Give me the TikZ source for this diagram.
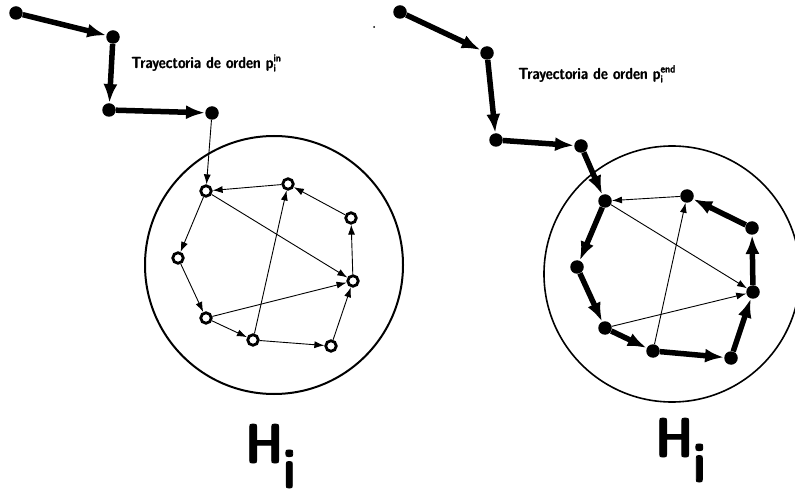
\documentclass[tikz,border=0pt]{standalone}
\usepackage{fontspec}
\newfontfamily\lmsdc{lmsansdemicond10-regular.otf}[FakeBold=1.6]
\usetikzlibrary{arrows.meta}
\tikzset{
  fdot/.style={circle,fill=black,inner sep=0pt,minimum size=13.5pt},
  odot/.style={circle,draw=black,line width=2.8pt,fill=white,inner sep=0pt,minimum size=10.5pt},
  thick path/.style={line width=5.5pt,-{Latex[length=19pt,width=14pt]}},
  thin path/.style={line width=0.9pt,-{Latex[length=10pt,width=7pt]}},
  lab/.style={inner sep=0pt,anchor=base west,font=\lmsdc\fontsize{16pt}{19pt}\selectfont},
  bigh/.style={inner sep=0pt,anchor=base west,font=\lmsdc\fontsize{56pt}{60pt}\selectfont}
}
\newcommand{\supsub}[2]{\rlap{\raisebox{-3.5pt}{\fontsize{10.5pt}{11pt}\selectfont #1}}\raisebox{6.5pt}{\fontsize{10.5pt}{11pt}\selectfont #2}}
\begin{document}
\begin{tikzpicture}[x=1pt,y=-1pt]
\useasboundingbox (0,0) rectangle (795,494);
% stray dot
\fill (374,27) circle (1pt);
% ---------- left ----------
\node[draw,circle,line width=2pt,minimum size=258pt,inner sep=0pt] (cl) at (274,265) {};
\node[fdot] (a1) at (16,13) {};
\node[fdot] (a2) at (113,37) {};
\node[fdot] (a3) at (109,110) {};
\node[fdot] (a4) at (212,113) {};
\node[odot] (l1) at (206,191) {};
\node[odot] (l2) at (288,184) {};
\node[odot] (l3) at (351,218) {};
\node[odot] (l4) at (353,281) {};
\node[odot] (l5) at (331,346) {};
\node[odot] (l6) at (253,340) {};
\node[odot] (l7) at (206,318) {};
\node[odot] (l8) at (178,258) {};
\draw[thick path] (a1) -- (a2);
\draw[thick path] (a2) -- (a3);
\draw[thick path] (a3) -- (a4);
\draw[thin path] (a4) -- (l1);
\draw[thin path] (l2) -- (l1);
\draw[thin path] (l1) -- (l8);
\draw[thin path] (l8) -- (l7);
\draw[thin path] (l7) -- (l6);
\draw[thin path] (l6) -- (l5);
\draw[thin path] (l5) -- (l4);
\draw[thin path] (l4) -- (l3);
\draw[thin path] (l3) -- (l2);
\draw[thin path] (l1) -- (l4);
\draw[thin path] (l7) -- (l4);
\draw[thin path] (l6) -- (l2);
\node[lab] (tl) at (131,68) {Trayectoria de orden p\supsub{i}{in}};
\node[bigh] (hl) at (245,463) {H\raisebox{-25pt}{i}};
% ---------- right ----------
\node[draw,circle,line width=1.6pt,minimum size=256pt,inner sep=0pt] (cr) at (672,274) {};
\node[fdot] (b1) at (400,12) {};
\node[fdot] (b2) at (487,53) {};
\node[fdot] (b3) at (496,140) {};
\node[fdot] (b4) at (581,146) {};
\node[fdot] (r1) at (605,201) {};
\node[fdot] (r2) at (687,196) {};
\node[fdot] (r3) at (752,228) {};
\node[fdot] (r4) at (753,292) {};
\node[fdot] (r5) at (731,358) {};
\node[fdot] (r6) at (653,351) {};
\node[fdot] (r7) at (605,328) {};
\node[fdot] (r8) at (577,267) {};
\draw[thick path] (b1) -- (b2);
\draw[thick path] (b2) -- (b3);
\draw[thick path] (b3) -- (b4);
\draw[thick path] (b4) -- (r1);
\draw[thick path] (r1) -- (r8);
\draw[thick path] (r8) -- (r7);
\draw[thick path] (r7) -- (r6);
\draw[thick path] (r6) -- (r5);
\draw[thick path] (r5) -- (r4);
\draw[thick path] (r4) -- (r3);
\draw[thick path] (r3) -- (r2);
\draw[thin path] (r2) -- (r1);
\draw[thin path] (r1) -- (r4);
\draw[thin path] (r7) -- (r4);
\draw[thin path] (r6) -- (r2);
\node[lab] (tr) at (518,79) {Trayectoria de orden p\supsub{i}{end}};
\node[bigh] (hr) at (655,457) {H\raisebox{-25pt}{i}};
\end{tikzpicture}
\end{document}
